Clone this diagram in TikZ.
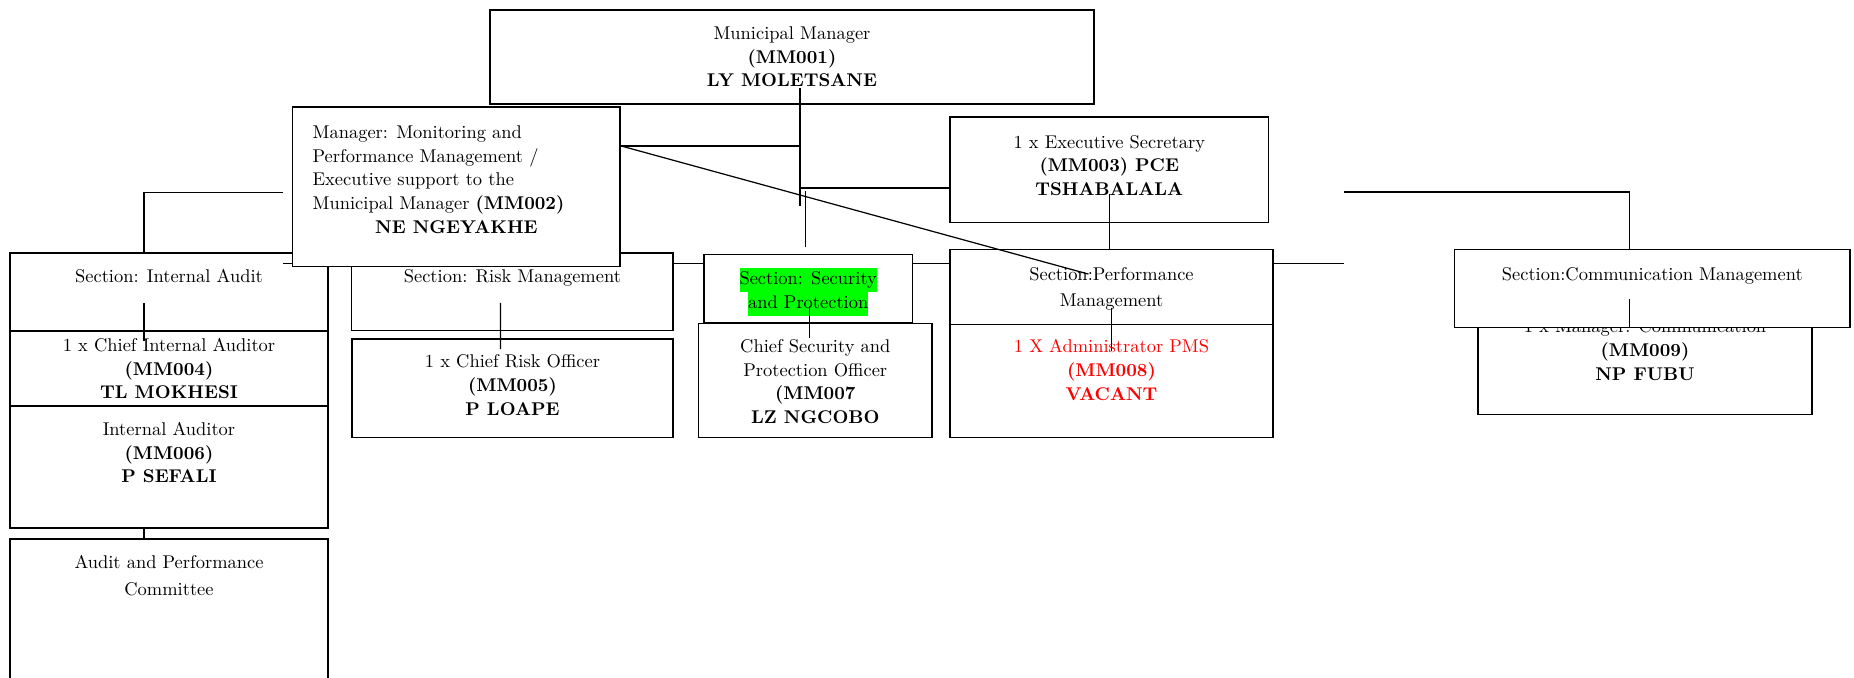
\documentclass[tikz,border=0pt]{standalone}
\usetikzlibrary{calc}
\definecolor{hlgreen}{RGB}{0,255,0}
\tikzset{
  orgbox/.style={draw, fill=white, line width=0.9pt, inner sep=0pt, font=\fontsize{10.5}{13.5}\selectfont},
  link/.style={line width=0.7pt}
}
\newcommand{\orgtext}[4][0.32]{\parbox[c][#3cm][t]{#2cm}{\centering\vspace*{#1cm}#4}}
\newcommand{\hilite}[1]{{\setlength{\fboxsep}{0pt}\colorbox{hlgreen}{\strut #1}}}

\begin{document}
\begin{tikzpicture}[x=0.02cm, y=-0.02cm]
\useasboundingbox (0,0) rectangle (1854,677);
\coordinate (busw) at (283,263.3);
\coordinate (buse) at (1344,263.3);
\coordinate (lefttip) at (283,192.7);
\coordinate (righttip) at (1344,192);

\node[orgbox] (mm) at (792,57) {\orgtext[0.33]{12.08}{1.88}{Municipal Manager\\\textbf{(MM001)}\\\textbf{LY MOLETSANE}}};
\node[orgbox] (exsec) at (1109.3,169.9) {\orgtext[0.36]{6.37}{2.11}{1 x Executive Secretary\\\textbf{(MM003) PCE}\\\textbf{TSHABALALA}}};
\node[orgbox] (ia) at (169,291.7) {\orgtext[0.33]{6.36}{1.56}{Section: Internal Audit}};
% bus line runs under the section boxes
\draw[link] (busw) -- (buse);
\node[orgbox] (risk) at (512.4,291.9) {\orgtext{6.43}{1.55}{Section: Risk Management}};
\node[orgbox, inner xsep=0.4cm] (mmii) at (456.4,186.9) {\parbox[c][3.19cm][t]{5.75cm}{\raggedright\vspace*{0.37cm}Manager: Monitoring and\\Performance Management /\\Executive support to the\\Municipal Manager \textbf{(MM002)}\par\centering\textbf{NE NGEYAKHE}}};
\node[orgbox] (cro) at (512.5,388.2) {\orgtext{6.42}{1.97}{1 x Chief Risk Officer\\\textbf{(MM005)}\\\textbf{P LOAPE}}};
\node[orgbox] (sec) at (808.2,288.9) {\orgtext[0.27]{4.17}{1.37}{\hilite{Section: Security}\\\hilite{and Protection}}};
\node[orgbox] (csp) at (815.3,380.3) {\orgtext{4.68}{2.28}{Chief Security and\\Protection Officer\\\textbf{(MM007}\\\textbf{LZ NGCOBO}}};
\node[orgbox] (pm) at (1111.5,286.9) {\orgtext[0.36]{6.46}{1.5}{Section:Performance\\[1.2pt]Management}};
\node[orgbox, text=red] (pms) at (1111.5,380.9) {\orgtext[0.3]{6.46}{2.26}{1 X Administrator PMS\\\textbf{(MM008)}\\\textbf{VACANT}}};
\node[orgbox] (mcom) at (1645,359.2) {\orgtext{6.69}{2.21}{1 x Manager: Communication\\\textbf{(MM009)}\\\textbf{NP FUBU}}};
\node[orgbox] (cm) at (1652.3,288.3) {\orgtext[0.37]{7.91}{1.56}{Section:Communication Management}};
\node[orgbox] (cia) at (169,368.2) {\orgtext[0.15]{6.36}{1.5}{1 x Chief Internal Auditor\\\textbf{(MM004)}\\\textbf{TL MOKHESI}}};
\node[orgbox] (iaud) at (169,467) {\orgtext[0.33]{6.36}{2.45}{Internal Auditor\\\textbf{(MM006)}\\\textbf{P SEFALI}}};
\node[orgbox] (apc) at (169,619.5) {\orgtext{6.36}{3.22}{Audit and Performance\\[1.8pt]Committee}};

% connectors
\coordinate (mmdrop) at ([xshift=0.16cm,yshift=0.34cm]mm.south);
\coordinate (mmfoot) at ([xshift=0.16cm,yshift=-2.02cm]mm.south);
\coordinate (mgrtap) at ([yshift=0.82cm]mmii.east);
\coordinate (sectap) at ([yshift=-0.36cm]exsec.west);
\coordinate (pmtick) at ([xshift=-0.46cm,yshift=-0.51cm]pm.north);
\draw[link] (mmdrop) -- (mmfoot);
\draw[link] (mgrtap) -- (mgrtap -| mmdrop);
\draw[link] (sectap) -- (sectap -| mmdrop);
\draw[link] (mgrtap) -- (pmtick);
\draw[link] ([xshift=-0.05cm,yshift=1.25cm]sec.north) -- ([xshift=-0.05cm,yshift=0.13cm]sec.north);
\draw[link] ([yshift=0.59cm]exsec.south) -- (exsec.south |- pm.north);
\draw[link] ([yshift=0.35cm]pm.south) -- ([yshift=-0.55cm]pms.north);
\draw[link] ([xshift=-0.5cm]ia.north) |- (lefttip);
\draw[link] (righttip) -| ([xshift=-0.45cm]cm.north);
\draw[link] ([xshift=-0.5cm,yshift=0.57cm]ia.south) -- ([xshift=-0.5cm,yshift=-0.23cm]cia.north);
\draw[link] ([xshift=-0.5cm]iaud.south) -- ([xshift=-0.5cm]apc.north);
\draw[link] ([xshift=-0.24cm,yshift=0.57cm]risk.south) -- ([xshift=-0.24cm,yshift=-0.22cm]cro.north);
\draw[link] ([xshift=0.03cm,yshift=0.36cm]sec.south) -- ([xshift=0.03cm,yshift=-0.28cm]sec.south);
\draw[link] ([xshift=-0.45cm,yshift=0.59cm]cm.south) -- ([xshift=-0.45cm]cm.south);
\end{tikzpicture}
\end{document}
